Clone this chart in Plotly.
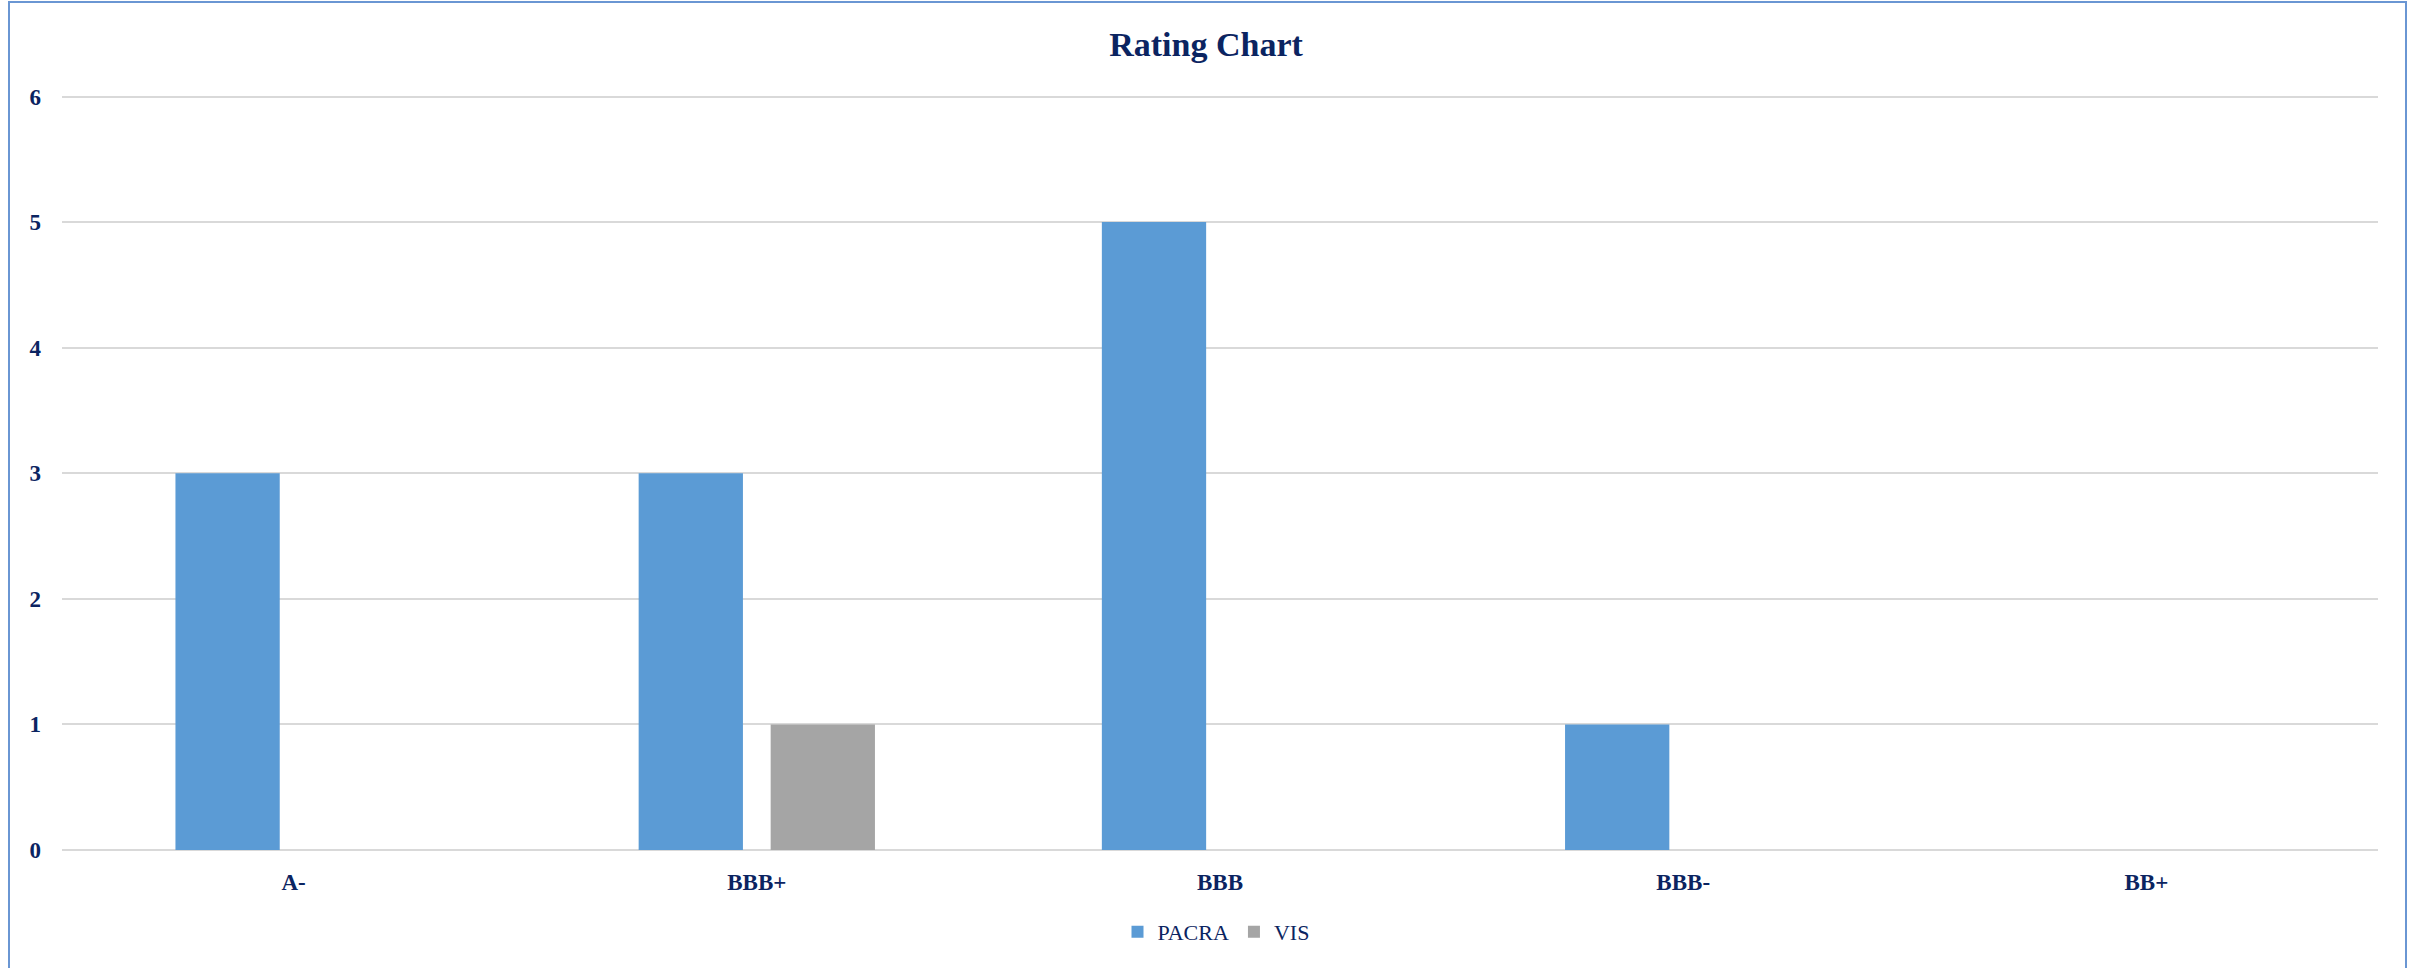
import plotly.graph_objects as go

ratings = ["A-", "BBB+", "BBB", "BBB-", "BB+"]
pacra = [3, 3, 5, 1, 0]
vis = [0, 1, 0, 0, 0]

navy = "#0B2461"
font_family = "Liberation Serif, DejaVu Serif, serif"

fig = go.Figure()
fig.add_trace(go.Bar(name="PACRA", x=ratings, y=pacra, marker=dict(color="#5B9BD5", line=dict(width=0))))
fig.add_trace(go.Bar(name="VIS", x=ratings, y=vis, marker=dict(color="#A5A5A5", line=dict(width=0))))

W, H = 2412, 968
y_top = 6.02
L, R, B = 62, 34, 118
T = round(H - B - (H - B - 97) * y_top / 6)
pw, ph = W - L - R, H - T - B

def px_x(p):
    return (p - L) / pw

def px_y(p):
    return (H - B - p) / ph

fig.update_layout(
    width=W, height=H,
    margin=dict(l=L, r=R, t=T, b=B, autoexpand=False),
    paper_bgcolor="white", plot_bgcolor="white",
    barmode="group", bargap=0.43, bargroupgap=0.21,
    font=dict(family=font_family, color=navy),
    title=dict(text="<b>Rating Chart</b>", x=0.5, xanchor="center", y=1 - 44 / H, yanchor="middle",
               font=dict(size=34, color=navy, family=font_family)),
    legend=dict(orientation="h", x=px_x(1216), xanchor="center", y=px_y(932), yanchor="middle",
                font=dict(size=22, color=navy, family=font_family), itemwidth=30,
                bgcolor="rgba(0,0,0,0)"),
    showlegend=True,
)
fig.update_xaxes(
    showgrid=False, zeroline=False, showline=False, ticks="",
    tickfont=dict(size=23, color=navy, family=font_family),
    ticklabelstandoff=16,
    tickvals=ratings, ticktext=[f"<b>{r}</b>" for r in ratings],
)
fig.update_yaxes(
    range=[0, y_top], showgrid=True, gridcolor="#D9D9D9", gridwidth=2,
    zeroline=True, zerolinecolor="#D9D9D9", zerolinewidth=2, showline=False, ticks="",
    tickfont=dict(size=23, color=navy, family=font_family),
    ticklabelstandoff=20,
    tickvals=list(range(7)), ticktext=[f"<b>{v}</b>" for v in range(7)],
)

# chart frame
fig.add_shape(type="rect", xref="paper", yref="paper",
              x0=px_x(9), x1=px_x(2406), y0=px_y(990), y1=px_y(2),
              line=dict(color="#6A96D3", width=2), fillcolor="rgba(0,0,0,0)", layer="below")

fig.write_html("out.html")
